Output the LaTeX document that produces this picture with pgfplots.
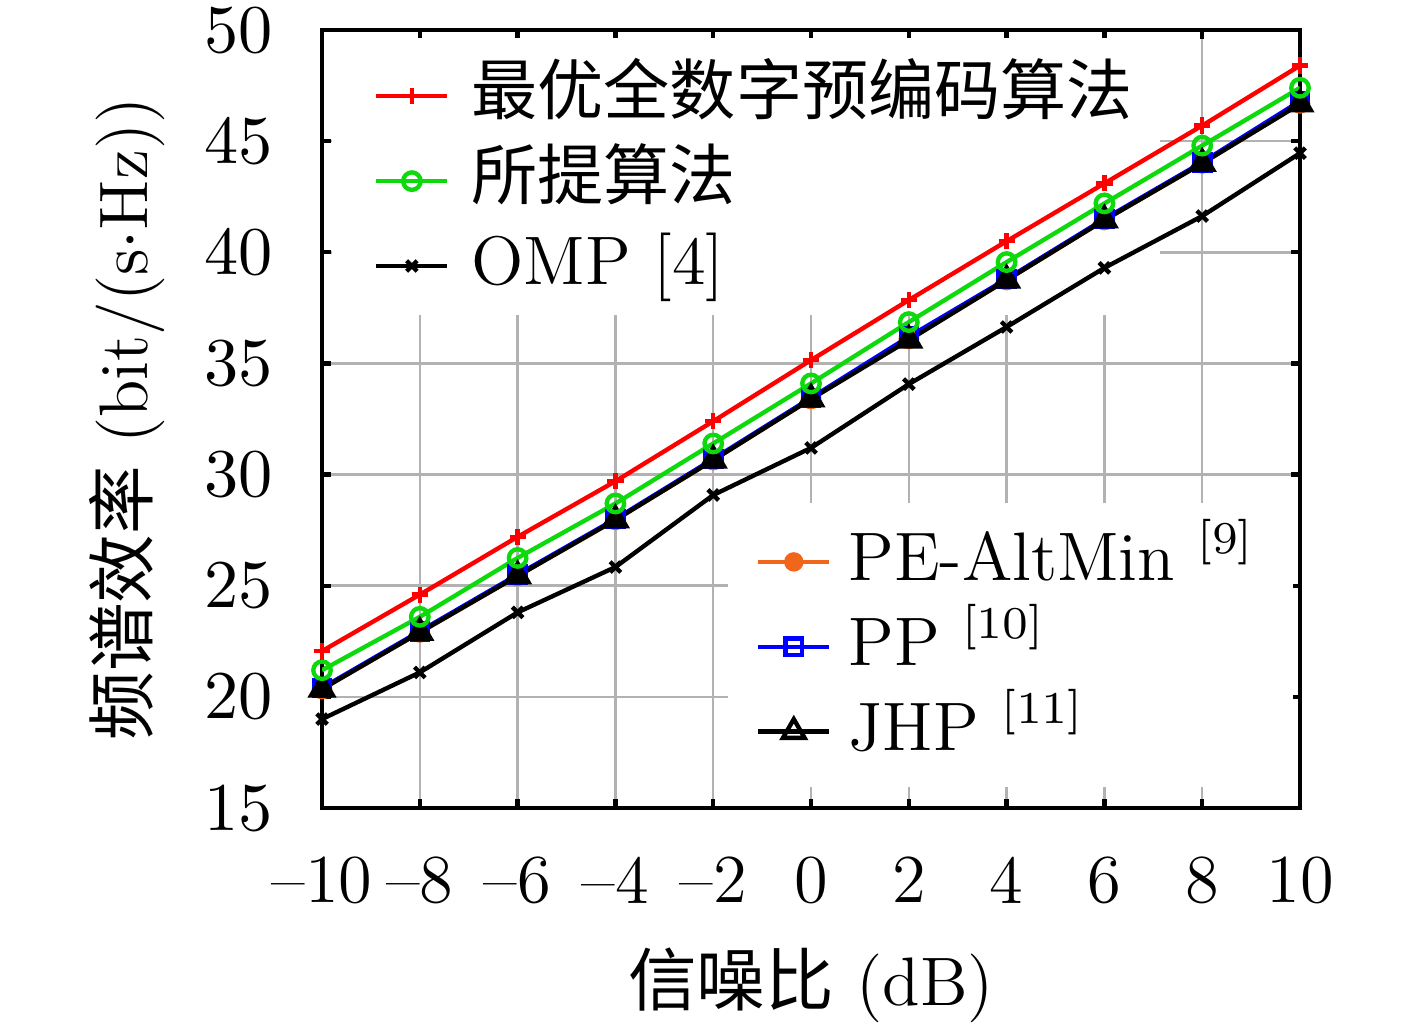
\documentclass[border=0pt]{standalone}
\usepackage{fontspec}
\usepackage{pgfplots}
\pgfplotsset{compat=1.18}
\newfontfamily\cjk{Noto Sans CJK SC}
\definecolor{cgreen}{rgb}{0.05,0.85,0.05}
\definecolor{corange}{rgb}{0.95,0.4,0.1}
\newcommand{\sref}[1]{\raisebox{0.9ex}{\fontsize{7.3}{8}\selectfont[#1]}}
\pgfplotsset{
  myaxis/.style={
    scale only axis, width=156.74pt, height=124.69pt,
    xmin=-10,xmax=10,ymin=15,ymax=50,
    font=\fontsize{11}{13}\selectfont,
    legend cell align=left,
    legend image code/.code={\draw[mark repeat=2,mark phase=2,##1] plot coordinates {(0pt,0pt)(5.7pt,0pt)(11.4pt,0pt)};},
    legend style={draw=none, fill=none, inner sep=0pt, row sep=0pt, column sep=2.2pt,
      nodes={inner sep=1.3pt, text height=8.5pt, text depth=2.5pt}},
  }
}
\begin{document}
\begin{tikzpicture}
\useasboundingbox (-51.61pt,-35.90pt) rectangle (175.49pt,129.50pt);
\begin{axis}[myaxis,
  xtick={-10,-8,...,10}, ytick={15,20,...,50},
  xticklabels={--10,--8,--6,--4,--2,0,2,4,6,8,10},
  grid=major, grid style={line width=0.4pt, color=black!30},
  axis line style={line width=0.7pt}, tick style={line width=0.7pt, black},
  major tick length=1.4pt, tick align=inside,
  xticklabel style={yshift=-4.3pt}, yticklabel style={xshift=-4.3pt},
  xlabel={{\cjk 信噪比} (dB)},
  ylabel={{\cjk 频谱效率} (bit/(s$\cdot$Hz))},
  xlabel style={at={(axis description cs:0.5,-0.2278)}, anchor=center},
  ylabel style={at={(axis description cs:-0.1997,0.5)}, anchor=center},
  legend style={at={(axis description cs:0.052,0.971)}, anchor=north west,
    font={\fontsize{11}{13}\selectfont}},
]
\fill[white] (axis cs:-9.8,37.18) rectangle (axis cs:7.14,49.64);
\fill[white] (axis cs:-1.70,15.95) rectangle (axis cs:9.86,28.72);
\addplot[corange, line width=0.7pt, mark=*, mark size=1.3pt, forget plot] coordinates {
(-10,20.35) (-8,22.9) (-6,25.44) (-4,27.96) (-2,30.65) (0,33.4) (2,36.1) (4,38.75) (6,41.45) (8,44.0) (10,46.7)};
\addplot[blue, line width=0.7pt, mark=square, mark size=1.3pt, forget plot] coordinates {
(-10,20.4) (-8,22.95) (-6,25.5) (-4,28.0) (-2,30.7) (0,33.45) (2,36.2) (4,38.8) (6,41.5) (8,44.05) (10,46.8)};
\addplot[black, line width=0.7pt, mark=triangle*, mark size=2pt, forget plot] coordinates {
(-10,20.35) (-8,22.9) (-6,25.44) (-4,27.96) (-2,30.65) (0,33.4) (2,36.05) (4,38.75) (6,41.45) (8,44.0) (10,46.67)};
\addplot[red, line width=0.7pt, mark=+, mark size=1.3pt] coordinates {
(-10,22.06) (-8,24.6) (-6,27.2) (-4,29.7) (-2,32.4) (0,35.15) (2,37.85) (4,40.5) (6,43.1) (8,45.7) (10,48.4)};
\addplot[cgreen, line width=0.7pt, mark=o, mark size=1.4pt] coordinates {
(-10,21.2) (-8,23.6) (-6,26.25) (-4,28.7) (-2,31.4) (0,34.1) (2,36.86) (4,39.56) (6,42.2) (8,44.8) (10,47.4)};
\addplot[black, line width=0.7pt, mark=x, mark size=1.2pt] coordinates {
(-10,19.0) (-8,21.1) (-6,23.8) (-4,25.84) (-2,29.08) (0,31.2) (2,34.07) (4,36.64) (6,39.3) (8,41.63) (10,44.46)};
\legend{{\cjk\fontsize{10.6}{13}\selectfont 最优全数字预编码算法},{\cjk\fontsize{10.6}{13}\selectfont 所提算法},OMP [4]}
\end{axis}
\begin{axis}[myaxis, hide axis,
  legend style={at={(axis description cs:0.4425,0.3725)}, anchor=north west,
    column sep=1.4pt}]
\addlegendimage{corange, line width=0.7pt, mark=*, mark size=1.2pt}
\addlegendimage{blue, line width=0.7pt, mark=square, mark size=1.3pt}
\addlegendimage{black, line width=0.7pt, mark=triangle, mark size=2pt}
\legend{PE-AltMin \sref{9}, PP \sref{10}, JHP \sref{11}}
\end{axis}
\end{tikzpicture}
\end{document}
